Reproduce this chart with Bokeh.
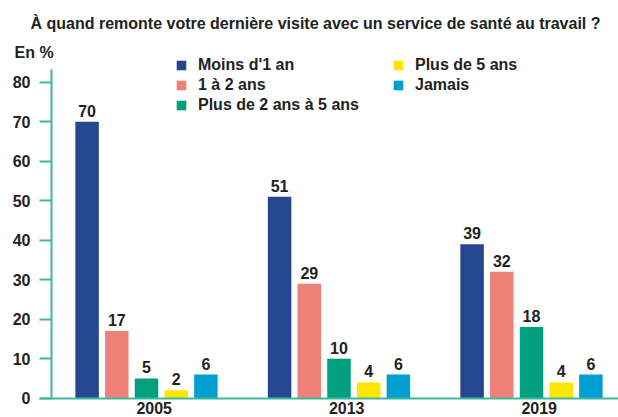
from bokeh.plotting import figure
from bokeh.models import Range1d, FixedTicker, Label, Legend, LegendItem, ColumnDataSource
from bokeh.core.properties import value
from bokeh.embed import file_html
from bokeh.resources import INLINE

# ---- data ----
years = ["2005", "2013", "2019"]
series_names = ["Moins d'1 an", "1 à 2 ans", "Plus de 2 ans à 5 ans", "Plus de 5 ans", "Jamais"]
moins_1_an = [70, 51, 39]
un_a_deux_ans = [17, 29, 32]
deux_a_cinq_ans = [5, 10, 18]
plus_5_ans = [2, 4, 4]
jamais = [6, 6, 6]
y_ticks = [0, 10, 20, 30, 40, 50, 60, 70, 80]
title_text = "À quand remonte votre dernière visite avec un service de santé au travail ?"
unit_text = "En %"

series_values = [moins_1_an, un_a_deux_ans, deux_a_cinq_ans, plus_5_ans, jamais]
colors = ["#26468f", "#f0807a", "#00a07e", "#ffe600", "#00a0d2"]
AXIS = "#3db8a0"
TXT = "#222222"
FONT = "Liberation Sans"

# ---- layout (canvas pixels) ----
W, H = 618, 417
ZERO_PX = 397.7      # canvas y of value 0
PPU = 3.95           # pixels per percentage point
G0_PX = 146.0        # canvas x of first group centre
GPX = 192.5          # pixels between groups
AXIS_X_PX = 51.0     # canvas x of the vertical axis
AXIS_TOP = 83.1      # value at which the vertical axis line ends
STEP = 0.1543        # bar step within a group (group units)
BAR_W = 0.122        # bar width (group units)

X0 = -G0_PX / GPX
X1 = (W - G0_PX) / GPX
Y0 = -(H - ZERO_PX) / PPU
Y1 = ZERO_PX / PPU


def px_to_x(px):
    return (px - G0_PX) / GPX


def py_to_y(py):
    return (ZERO_PX - py) / PPU


p = figure(width=W, height=H, output_backend="svg", toolbar_location=None, title=None,
           x_range=Range1d(X0, X1), y_range=Range1d(Y0, Y1),
           min_border_left=0, min_border_right=0, min_border_top=0, min_border_bottom=0)
p.outline_line_color = None
p.xgrid.visible = False
p.ygrid.visible = False
p.background_fill_color = "white"
p.border_fill_color = "white"

ya = p.yaxis[0]
ya.fixed_location = px_to_x(AXIS_X_PX)
ya.bounds = (0, AXIS_TOP)
ya.ticker = FixedTicker(ticks=y_ticks)
ya.axis_line_color = AXIS
ya.axis_line_width = 2
ya.major_tick_line_color = AXIS
ya.major_tick_line_width = 2
ya.major_tick_out = 12
ya.major_tick_in = 0
ya.minor_tick_line_color = None
ya.major_label_standoff = 9
ya.major_label_text_font = FONT
ya.major_label_text_font_style = "bold"
ya.major_label_text_font_size = "16px"
ya.major_label_text_color = TXT

xa = p.xaxis[0]
xa.fixed_location = 0
xa.bounds = (px_to_x(39), X1)
xa.ticker = FixedTicker(ticks=[i + 0.04 for i in range(len(years))])
xa.major_label_overrides = {i + 0.04: y for i, y in enumerate(years)}
xa.axis_line_color = AXIS
xa.axis_line_width = 2
xa.major_tick_line_color = None
xa.minor_tick_line_color = None
xa.major_tick_out = 0
xa.major_tick_in = 0
xa.major_label_standoff = 4
xa.major_label_text_font = FONT
xa.major_label_text_font_style = "bold"
xa.major_label_text_font_size = "16px"
xa.major_label_text_color = TXT

items = []
for j, (name, vals, col) in enumerate(zip(series_names, series_values, colors)):
    src = ColumnDataSource(dict(
        x=[i + (j - 2) * STEP for i in range(len(years))],
        top=vals,
        label=[str(v) for v in vals],
    ))
    r = p.vbar(x="x", top="top", width=BAR_W, source=src, fill_color=col, line_color=None)
    p.text(x="x", y="top", text="label", source=src, text_align="center",
           text_baseline="bottom", y_offset=-5, text_font=value(FONT),
           text_font_style="bold", text_font_size="16px", text_color=TXT)
    items.append(LegendItem(label=name, renderers=[r]))

legend = Legend(items=items, location=(175, H - 115),
                orientation="vertical", nrows=3,
                glyph_width=12, glyph_height=12, label_standoff=11,
                label_width=194, label_height=20, spacing=0, padding=0, margin=0,
                border_line_color=None, background_fill_alpha=0,
                label_text_font=FONT, label_text_font_style="bold",
                label_text_font_size="16px", label_text_color=TXT)
p.add_layout(legend)

p.add_layout(Label(x=px_to_x(30), y=py_to_y(22.5), text=title_text, text_align="left",
                   text_baseline="middle", text_font=FONT, text_font_style="bold",
                   text_font_size="16px", text_color=TXT))
p.add_layout(Label(x=px_to_x(14), y=py_to_y(52), text=unit_text, text_align="left",
                   text_baseline="middle", text_font=FONT, text_font_style="bold",
                   text_font_size="16px", text_color=TXT))

open("out.html", "w").write(file_html(p, INLINE))
